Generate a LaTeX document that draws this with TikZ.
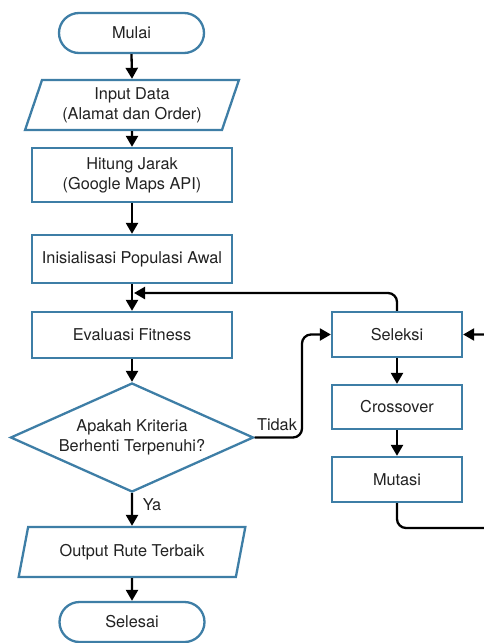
\documentclass[tikz,border=0pt]{standalone}
\usepackage{fontspec}
\setmainfont{TeX Gyre Heros}
\usetikzlibrary{shapes.geometric,arrows.meta}
\definecolor{boxblue}{RGB}{62,126,166}
\definecolor{txt}{RGB}{34,34,34}
\begin{document}
\begin{tikzpicture}[x=1pt,y=1pt,
  base/.style={draw=boxblue,line width=2.3pt,fill=white,text=txt,align=center,inner sep=2pt,
    font=\fontsize{16.3}{20}\selectfont},
  procbox/.style={base,rectangle,minimum width=200pt},
  smallbox/.style={base,rectangle,minimum width=130pt,minimum height=45pt},
  termbox/.style={base,rectangle,rounded corners=20pt,minimum width=145pt,minimum height=40pt},
  iobox/.style={base,trapezium,trapezium left angle=71,trapezium right angle=109,
    trapezium stretches=true,minimum height=50pt},
  decbox/.style={base,diamond,aspect=2.23,inner sep=0pt,minimum width=243pt,minimum height=109pt},
  arr/.style={line width=2.3pt,draw=black,-{Triangle[length=11pt,width=12pt]}},
  lbl/.style={text=txt,font=\fontsize{16.3}{20}\selectfont,inner sep=0pt}]
\useasboundingbox (0,-643) rectangle (484,0);
\node[termbox] (mulai) at (131.5,-33) {Mulai};
\node[iobox,minimum width=214pt] (input) at (132,-105) {Input Data\\(Alamat dan Order)};
\node[procbox,minimum height=54pt] (hitung) at (132,-175) {Hitung Jarak\\(Google Maps API)};
\node[procbox,minimum height=48pt] (init) at (132,-259) {Inisialisasi Populasi Awal};
\node[procbox,minimum height=46pt] (eval) at (132,-335) {Evaluasi Fitness};
\node[decbox] (dec) at (132,-437.5) {Apakah Kriteria\\Berhenti Terpenuhi?};
\node[iobox,minimum width=227pt] (output) at (132,-552) {Output Rute Terbaik};
\node[termbox] (selesai) at (132,-622) {Selesai};
\node[smallbox] (sel) at (397,-334.5) {Seleksi};
\node[smallbox,minimum height=44pt] (cross) at (397,-407) {Crossover};
\node[smallbox] (mut) at (397,-479.5) {Mutasi};
\coordinate (fb) at (134,-293);
\coordinate (tk) at (302,-334.5);
\coordinate (lp1) at (510,-528);
\coordinate (lp2) at (510,-334.5);
\draw[arr] (mulai.south) -- (input.north);
\draw[arr] (input.south) -- (hitung.north);
\draw[arr] (hitung.south) -- (init.north);
\draw[arr] (init.south) -- (eval.north);
\draw[arr] (eval.south) -- (dec.north);
\draw[arr] (dec.south) -- (output.north);
\draw[arr] (output.south) -- (selesai.north);
\draw[arr] (sel.south) -- (cross.north);
\draw[arr] (cross.south) -- (mut.north);
\draw[arr,rounded corners=9pt] (sel.north) |- (fb);
\draw[arr,rounded corners=9pt] (dec.east) -| (tk) -- (sel.west);
\node[lbl] (ya) at (152,-505) {Ya};
\node[lbl] (tidak) at (277,-425) {Tidak};
\draw[arr,rounded corners=9pt] (mut.south) |- (lp1) -- (lp2) -- (sel.east);
\end{tikzpicture}
\end{document}
